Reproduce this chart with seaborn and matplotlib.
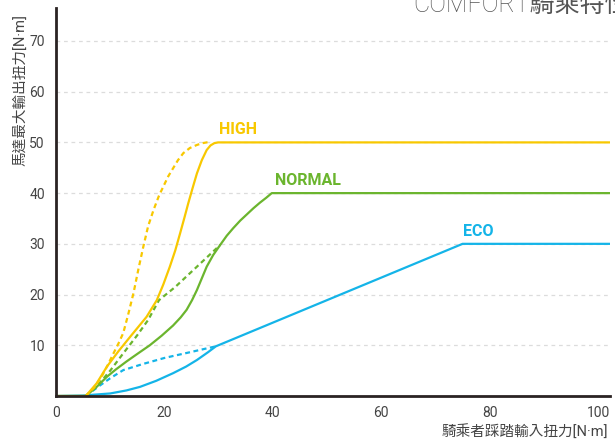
import matplotlib
matplotlib.use("Agg")
import matplotlib.pyplot as plt
import seaborn as sns
import pandas as pd

# ---- data ----
high_x = [0, 5.5, 7.5, 9.4, 11.5, 13.7, 16.7, 18.6, 19.8, 21.0, 22.0, 22.9, 23.7, 24.4, 25.2, 26.0, 26.9, 27.8, 28.5, 29.2, 29.9, 103]
high_y = [0, 0, 2.5, 5.8, 8.8, 11.7, 15.6, 18.9, 22.0, 25.5, 28.7, 32.1, 35.2, 38.0, 41.0, 43.9, 46.5, 48.5, 49.4, 49.85, 50, 50]

high_d_x = [5.5, 7.0, 8.4, 9.5, 10.6, 11.5, 12.4, 13.3, 14.3, 15.2, 16.1, 17.0, 18.0, 19.0, 19.8, 20.7, 21.6, 22.5, 23.5, 24.7, 26.0, 27.0, 27.8, 28.5]
high_d_y = [0, 1.6, 3.8, 6.0, 8.4, 10.3, 12.4, 16.0, 20.3, 25.0, 29.4, 33.5, 36.7, 39.5, 41.3, 43.3, 44.9, 46.5, 47.9, 48.9, 49.5, 49.85, 50, 50]

normal_x = [0, 5.5, 7.5, 9.4, 11.0, 13.0, 15.0, 17.3, 19.5, 21.6, 23.0, 24.1, 25.1, 26.0, 26.9, 27.8, 29.0, 30.3, 31.5, 32.7, 34.0, 35.2, 36.4, 37.6, 38.8, 39.8, 103]
normal_y = [0, 0, 1.8, 3.8, 5.2, 6.8, 8.3, 10.0, 11.9, 13.9, 15.5, 17.0, 18.9, 20.9, 23.2, 25.5, 27.8, 29.8, 31.6, 33.1, 34.6, 35.8, 37.0, 38.1, 39.1, 40, 40]

normal_d_x = [5.5, 8.0, 10.0, 12.4, 15.0, 17.0, 19.0, 22.0, 24.7, 27.5, 30.3]
normal_d_y = [0, 2.5, 5.0, 8.4, 12.0, 15.0, 18.9, 21.5, 24.2, 27.0, 29.8]

eco_x = [0, 5.0, 10.0, 13.0, 15.5, 18.5, 21.6, 24.0, 26.0, 28.0, 29.5, 75, 103]
eco_y = [0, 0.1, 0.5, 1.1, 1.8, 3.0, 4.5, 5.8, 7.1, 8.6, 9.8, 30, 30]

eco_d_x = [5.5, 8.0, 10.0, 12.4, 16.0, 20.0, 25.0, 29.5]
eco_d_y = [0, 2.0, 3.5, 5.1, 6.3, 7.5, 8.7, 9.8]

x_ticks = [0, 20, 40, 60, 80, 100]
y_ticks = [10, 20, 30, 40, 50, 60, 70]

labels = ["HIGH", "NORMAL", "ECO"]
label_pos_x = [30.0, 40.4, 75.1]
label_pos_y = [51.0, 41.0, 31.0]

title = "COMFORT騎乘特性"
xlabel = "騎乘者踩踏輸入扭力[N·m]"
ylabel = "馬達最大輸出扭力[N·m]"

YELLOW = "#F8C800"
GREEN = "#6BB52E"
BLUE = "#14B4E8"

sns.set_theme(style="white")
plt.rcParams["font.family"] = ["Roboto", "DejaVu Sans"]
mixed = ["Roboto", "Noto Sans CJK TC", "DejaVu Sans"]

fig = plt.figure(figsize=(6.15, 4.42), dpi=100)
ax = fig.add_axes([56 / 615, 1 - 396 / 442, (610 - 56) / 615, (396 - 8) / 442])

dash = (2.2, 1.6)
series = [
    (eco_x, eco_y, BLUE, None),
    (eco_d_x, eco_d_y, BLUE, dash),
    (normal_d_x, normal_d_y, GREEN, dash),
    (normal_x, normal_y, GREEN, None),
    (high_d_x, high_d_y, YELLOW, dash),
    (high_x, high_y, YELLOW, None),
]
for xs, ys, col, ds in series:
    df = pd.DataFrame({"x": xs, "y": ys})
    sns.lineplot(data=df, x="x", y="y", ax=ax, color=col, lw=1.6,
                 sort=False, estimator=None, legend=False)
    ln = ax.lines[-1]
    ln.set_solid_joinstyle("round")
    ln.set_dash_joinstyle("round")
    if ds is not None:
        ln.set_dashes(ds)

ax.set_xlim(0, 102.2)
ax.set_ylim(0, 76.5)
ax.set_xticks(x_ticks)
ax.set_yticks(y_ticks)
ax.set_xticklabels([str(v) for v in x_ticks])
ax.set_yticklabels([str(v) for v in y_ticks])
ax.tick_params(axis="both", length=0, labelsize=10, labelcolor="#444444")
ax.tick_params(axis="x", pad=7)
ax.tick_params(axis="y", pad=8)
ax.yaxis.grid(True, color="#dcdcdc", linestyle=(0, (3, 3)), lw=0.9)
ax.xaxis.grid(False)
ax.set_axisbelow(True)
for side in ["top", "right"]:
    ax.spines[side].set_visible(False)
for side in ["left", "bottom"]:
    ax.spines[side].set_color("#2a2323")
    ax.spines[side].set_linewidth(2.0)
ax.set_xlabel("")
ax.set_ylabel("")

for lab, lx, ly, col in zip(labels, label_pos_x, label_pos_y, [YELLOW, GREEN, BLUE]):
    ax.text(lx, ly, lab, color=col, fontsize=11.5, fontweight="bold",
            ha="left", va="bottom")

fig.text(608 / 615, 1 - 432 / 442, xlabel, ha="right", va="center",
         fontsize=10.5, color="#444444", family=mixed)
fig.text(20 / 615, 1 - 14 / 442, ylabel, ha="center", va="top", rotation=90,
         fontsize=10.5, color="#444444", family=mixed)
fig.text(413 / 615, 1 - 12.5 / 442, title, ha="left", va="baseline",
         fontsize=18, color="#555555", family=mixed, fontweight="light")

fig.savefig("out.png", dpi=100)
